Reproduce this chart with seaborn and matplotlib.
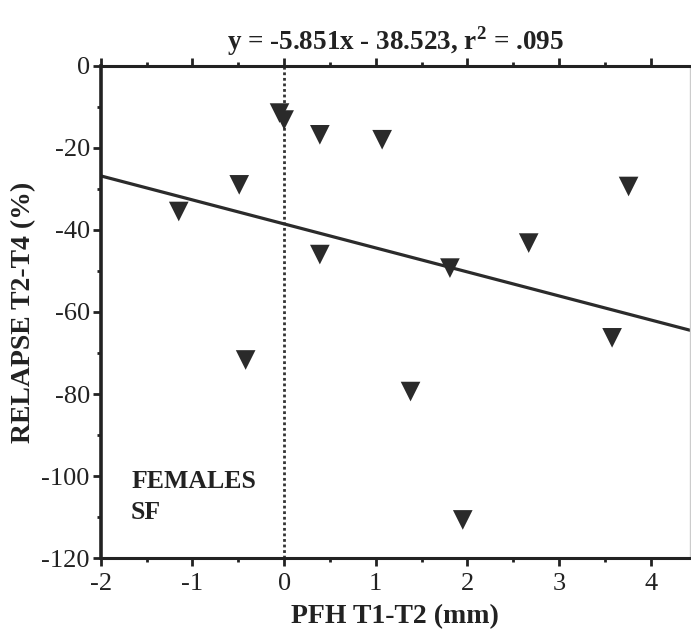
import matplotlib
matplotlib.use("Agg")
import matplotlib.pyplot as plt
import seaborn as sns
import numpy as np
import pandas as pd
from matplotlib.ticker import MultipleLocator

# Data
pfh = [-0.05, 0.00, 0.39, 1.07, 3.76, 0.39, 1.81, 2.67, 3.58, -0.49, -1.15, -0.42, 1.38, 1.95]
relapse = [-11.5, -13.2, -16.8, -18.0, -29.4, -46.0, -49.3, -43.2, -66.3, -29.0, -35.5, -71.7, -79.4, -110.7]
slope = -5.851
intercept = -38.523
x_ticks = [-2, -1, 0, 1, 2, 3, 4]
y_ticks = [-120, -100, -80, -60, -40, -20, 0]
title_text = "y = -5.851x - 38.523, r$^{\\mathbf{2}}$ = .095"
x_label = "PFH T1-T2 (mm)"
y_label = "RELAPSE T2-T4 (%)"
group_label = "FEMALES\nSF"

df = pd.DataFrame({"PFH": pfh, "RELAPSE": relapse})

sns.set_theme(style="white")
plt.rcParams['font.family'] = ['Liberation Serif', 'DejaVu Serif']
plt.rcParams['axes.unicode_minus'] = False
plt.rcParams['mathtext.fontset'] = 'custom'
plt.rcParams['mathtext.rm'] = 'Liberation Serif'
plt.rcParams['mathtext.bf'] = 'Liberation Serif:bold'

fig = plt.figure(figsize=(6.91, 6.40), dpi=100)
ax = fig.add_axes([0.146, 0.128, 0.9985 - 0.146, 0.897 - 0.128])

xmin, xmax = -2, 4.43
ax.set_xlim(xmin, xmax)
ax.set_ylim(-120, 0)

# dotted vertical reference line at x = 0
ax.axvline(0, color="#333333", lw=2, ls=(0, (1, 1)), zorder=1)

# regression line from the given coefficients
xl = np.array([xmin, xmax])
ax.plot(xl, slope * xl + intercept, color="#2b2b2b", lw=2.3, zorder=2)

sns.scatterplot(data=df, x="PFH", y="RELAPSE", marker="v", s=200,
                color="#2a2a2a", edgecolor="none", ax=ax, zorder=3)

ax.set_xticks(x_ticks)
ax.set_yticks(y_ticks)
ax.xaxis.set_minor_locator(MultipleLocator(0.5))
ax.yaxis.set_minor_locator(MultipleLocator(10))
ax.tick_params(axis="x", which="both", direction="out", bottom=True, top=True,
               labelsize=19, pad=5, colors="#222222", labelcolor="#222222")
ax.tick_params(axis="y", which="both", direction="out", left=True, right=False,
               labelsize=19, pad=2, colors="#222222", labelcolor="#222222")
ax.tick_params(which="major", length=6, width=2)
ax.tick_params(which="minor", length=3, width=2)

for side in ["left", "bottom", "top"]:
    ax.spines[side].set_color("#222222")
ax.spines["left"].set_linewidth(2.6)
ax.spines["bottom"].set_linewidth(2.2)
ax.spines["top"].set_linewidth(2.2)
ax.spines["right"].set_color("#cccccc")
ax.spines["right"].set_linewidth(1)

ax.set_xlabel(x_label, fontsize=20, fontweight="bold", labelpad=6, color="#222222")
ax.set_ylabel(y_label, fontsize=20, fontweight="bold", labelpad=4, color="#222222")
ax.set_title(title_text, fontsize=19.5, fontweight="bold", pad=12, color="#222222")

ax.text(-1.67, -98.5, group_label, fontsize=18.5, fontweight="bold", va="top",
        ha="left", color="#222222", linespacing=1.45)

fig.savefig("out.png", dpi=100)
